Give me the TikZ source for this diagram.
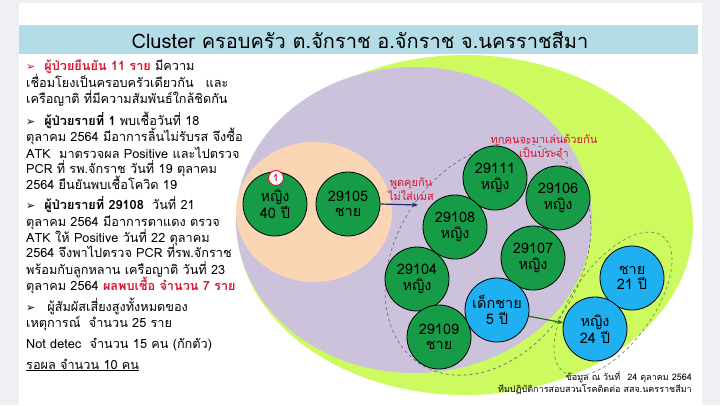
\documentclass[tikz,border=0pt]{standalone}
\usepackage{fontspec}
\usepackage[dvipsnames]{xcolor}
\setmainfont[Script=Thai]{Loma}
\newfontfamily\symfont{DejaVu Sans}
\usetikzlibrary{arrows.meta}

\definecolor{pageGrey}{RGB}{238,240,243}
\definecolor{titleBlue}{RGB}{180,220,230}
\definecolor{limeGreen}{RGB}{204,250,95}
\definecolor{lilac}{RGB}{204,194,220}
\definecolor{peach}{RGB}{251,214,180}
\definecolor{caseGreen}{RGB}{22,155,70}
\definecolor{contactBlue}{RGB}{30,176,240}
\definecolor{noteRed}{RGB}{220,20,50}
\definecolor{navyArrow}{RGB}{30,40,110}
\definecolor{darkGreenArrow}{RGB}{40,110,40}

\newcommand{\arrowmark}{{\symfont\fontsize{11}{11}\selectfont ➢}\hspace{9pt}}

\begin{document}
\begin{tikzpicture}[x=1pt, y=-1pt,
    person/.style={circle, draw=black, line width=0.8pt, minimum size=64pt, inner sep=0pt, align=center, font=\fontsize{14.5}{15.5}\selectfont},
    case/.style={person, fill=caseGreen},
    contact/.style={person, fill=contactBlue},
    note/.style={text=noteRed, align=center, font=\fontsize{11}{11}\selectfont},
    line/.style={anchor=base west, inner sep=0pt, font=\fontsize{12.7}{16}\selectfont},
    credit/.style={anchor=base east, inner sep=0pt, font=\fontsize{9}{10}\selectfont}]
    \fill[pageGrey] (0,0) rectangle (720,405);
    \fill[white] (19,3) rectangle (702,405);
    \fill[titleBlue] (19,25) rectangle (698,54);
    \node[font=\fontsize{20}{22}\selectfont] (title) at (360,40) {Cluster ครอบครัว ต.จักราช อ.จักราช จ.นครราชสีมา};

    % text on the left
    \node[line] (l1) at (26,70) {{\color{noteRed}\arrowmark\bfseries ผู้ป่วยยืนยัน 11 ราย} มีความ};
    \node[line] (l2) at (26,87) {เชื่อมโยงเป็นครอบครัวเดียวกัน\hspace{12pt}และ};
    \node[line] (l3) at (26,103) {เครือญาติ ที่มีความสัมพันธ์ใกล้ชิดกัน};
    \node[line] (l4) at (26,125) {\arrowmark{\bfseries ผู้ป่วยรายที่ 1} พบเชื้อวันที่ 18};
    \node[line] (l5) at (26,141) {ตุลาคม 2564 มีอาการลิ้นไม่รับรส จึงซื้อ};
    \node[line] (l6) at (26,158) {ATK\hspace{4pt} มาตรวจผล Positive และไปตรวจ};
    \node[line] (l7) at (26,173) {PCR ที่ รพ.จักราช วันที่ 19 ตุลาคม};
    \node[line] (l8) at (26,189) {2564 ยืนยันพบเชื้อโควิด 19};
    \node[line] (l9) at (26,209) {\arrowmark{\bfseries ผู้ป่วยรายที่ 29108}\hspace{4pt} วันที่ 21};
    \node[line] (l10) at (26,226) {ตุลาคม 2564 มีอาการตาแดง ตรวจ};
    \node[line] (l11) at (26,242) {ATK ให้ Positive วันที่ 22 ตุลาคม};
    \node[line] (l12) at (26,257) {2564 จึงพาไปตรวจ PCR ที่รพ.จักราช};
    \node[line] (l13) at (26,274) {พร้อมกับลูกหลาน เครือญาติ วันที่ 23};
    \node[line] (l14) at (26,290) {ตุลาคม 2564 {\color{noteRed}\bfseries ผลพบเชื้อ จำนวน 7 ราย}};
    \node[line] (l15) at (26,311) {\arrowmark\hspace{3pt}ผู้สัมผัสเสี่ยงสูงทั้งหมดของ};
    \node[line] (l16) at (26,327) {เหตุการณ์\hspace{4pt} จำนวน 25 ราย};
    \node[line] (l17) at (26,348) {Not detec\hspace{4pt} จำนวน 15 คน (กักตัว)};
    \node[line] (l18) at (26,369) {\underline{รอผล จำนวน 10 คน}};

    % the clusters
    \fill[limeGreen] (465,225) ellipse [x radius=228, y radius=170];
    \fill[lilac] (414,220) ellipse [x radius=178, y radius=153];
    \fill[peach] (314,212) ellipse [x radius=78, y radius=70];
    \draw[dashed, draw=black!45!lilac, line width=0.7pt, rotate around={57:(488,259)}] (488,259) ellipse [x radius=125, y radius=92];
    \draw[dashed, draw=darkGreenArrow!80, line width=0.6pt, rotate around={54:(613,304)}] (613,304) ellipse [x radius=84, y radius=40];

    \node[case] (mother) at (275,204) {หญิง\\40 ปี};
    \node[circle, draw=noteRed, fill=white, line width=1pt, minimum size=15pt, inner sep=0pt, text=noteRed, font=\fontsize{10}{10}\selectfont\bfseries] (first) at (276,178) {1};
    \node[case] (p29105) at (348,204) {29105\\ชาย};
    \node[case] (p29111) at (495,178) {29111\\หญิง};
    \node[case] (p29106) at (558,198) {29106\\หญิง};
    \node[case] (p29108) at (455,227) {29108\\หญิง};
    \node[case] (p29107) at (533,258) {29107\\หญิง};
    \node[case] (p29104) at (417,279) {29104\\หญิง};
    \node[case] (p29109) at (439,337) {29109\\ชาย};
    \node[contact] (boy) at (497,310) {เด็กชาย\\5 ปี};
    \node[contact] (man) at (632,278) {ชาย\\21 ปี};
    \node[contact] (woman) at (595,329) {หญิง\\24 ปี};

    \coordinate (meet) at (418,205);
    \draw[-{Stealth[length=6pt]}, navyArrow, line width=1.2pt] (p29105.east) -- (meet);
    \draw[-{Stealth[length=6pt]}, darkGreenArrow, line width=1.2pt] (boy) -- (woman);

    \node[note] (talk) at (411,189) {พูดคุยกัน\\ไม่ใส่แมส};
    \node[note] (play) at (544,146) {ทุกคนจะมาเล่นด้วยกัน\\เป็นประจำ};

    \node[credit] (date) at (692,380) {ข้อมูล ณ วันที่\hspace{4pt} 24 ตุลาคม 2564};
    \node[credit] (team) at (692,392) {ทีมปฏิบัติการสอบสวนโรคติดต่อ สสจ.นครราชสีมา};
\end{tikzpicture}
\end{document}
